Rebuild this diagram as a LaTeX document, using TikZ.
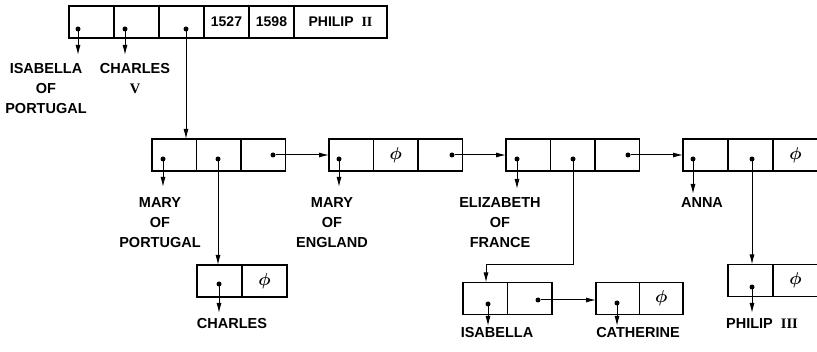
\documentclass[tikz,border=0pt]{standalone}
\usepackage{fontspec}
\usepackage{amsmath}
\setmainfont{Liberation Sans}
\newfontfamily\romfont{Liberation Serif}
\usetikzlibrary{arrows.meta}
\begin{document}
\begin{tikzpicture}[x=1pt,y=-1pt,
 cell/.style={draw,line width=1.4pt,minimum height=32pt,minimum width=44.5pt,inner sep=0pt,outer sep=0pt,font=\fontsize{14}{14}\bfseries\selectfont},
 dot/.style={circle,fill,inner sep=0pt,outer sep=0pt,minimum size=5pt},
 lab/.style={anchor=north,align=center,inner sep=0pt,font=\fontsize{14.5}{20}\bfseries\selectfont},
 ptr/.style={line width=1pt,-{Latex[length=10pt,width=5pt]}}]
\useasboundingbox (0,0) rectangle (817,352);
\clip (0,0) rectangle (817,352);
\newcommand{\phisym}{\fontsize{16}{16}\selectfont$\boldsymbol{\phi}$}
% top record
\node[cell,minimum width=45pt] (t1) at (91.5,22) {};
\node[cell,minimum width=45pt] (t2) at (136.5,22) {};
\node[cell,minimum width=45pt] (t3) at (181.5,22) {};
\node[cell,minimum width=45pt] (t4) at (226.5,22) {1527};
\node[cell,minimum width=45pt] (t5) at (271.5,22) {1598};
\node[cell,minimum width=93pt] (t6) at (340.5,22) {PHILIP\ \ {\romfont II}};
\node[dot] (td1) at (78,29) {};
\node[dot] (td2) at (125,29) {};
\node[dot] (td3) at (186,29) {};
% middle records
\node[cell] (m1a) at (174.2,155) {};
\node[cell] (m1b) at (218.8,155) {};
\node[cell] (m1c) at (263.3,155) {};
\node[cell] (m2a) at (351.3,155) {};
\node[cell] (m2b) at (395.8,155) {\phisym};
\node[cell] (m2c) at (440.3,155) {};
\node[cell] (m3a) at (528.3,155) {};
\node[cell] (m3b) at (572.8,155) {};
\node[cell] (m3c) at (617.3,155) {};
\node[cell,minimum width=45pt] (m4a) at (705.5,155) {};
\node[cell,minimum width=45pt] (m4b) at (750.5,155) {};
\node[cell,minimum width=45pt] (m4c) at (795.5,155) {\phisym};
\node[dot] (m1d1) at (163,159) {};
\node[dot] (m1d2) at (218,159) {};
\node[dot] (m1d3) at (273,155) {};
\node[dot] (m2d1) at (339,159) {};
\node[dot] (m2d3) at (452,155) {};
\node[dot] (m3d1) at (517,159) {};
\node[dot] (m3d2) at (573,159) {};
\node[dot] (m3d3) at (628,155) {};
\node[dot] (m4d1) at (693,159) {};
\node[dot] (m4d2) at (752,159) {};
% bottom records
\node[cell,minimum width=45pt] (b1a) at (219.5,281) {};
\node[cell,minimum width=45pt] (b1b) at (264.5,281) {\phisym};
\node[cell] (b2a) at (485.2,298.5) {};
\node[cell] (b2b) at (529.8,298.5) {};
\node[cell,minimum width=43.5pt] (b3a) at (617.8,298.5) {};
\node[cell,minimum width=43.5pt] (b3b) at (661.3,298.5) {\phisym};
\node[cell,minimum width=45pt] (b4a) at (750.5,280.5) {};
\node[cell,minimum width=45pt] (b4b) at (795.5,280.5) {\phisym};
\node[dot] (b1d) at (219,284) {};
\node[dot] (b2d1) at (488,304) {};
\node[dot] (b2d2) at (538,300) {};
\node[dot] (b3d) at (617,303) {};
\node[dot] (b4d) at (752,287) {};
% labels
\node[lab] (l1) at (46,63) {ISABELLA\\OF\\PORTUGAL};
\node[lab] (l2) at (135,63) {CHARLES\\{\romfont V}};
\node[lab] (l3) at (160,197) {MARY\\OF\\PORTUGAL};
\node[lab] (l4) at (332,197) {MARY\\OF\\ENGLAND};
\node[lab] (l5) at (500,197) {ELIZABETH\\OF\\FRANCE};
\node[lab] (l6) at (702,197) {ANNA};
\node[lab] (l7) at (232,318) {CHARLES};
\node[lab] (l8) at (497,327) {ISABELLA};
\node[lab] (l9) at (638,327) {CATHERINE};
\node[lab] (l10) at (762,318) {PHILIP\ \ {\romfont III}};
\coordinate (k) at (486,265);
% connectors
\draw[ptr,shorten >=8pt] (td1) -- (td1 |- l1.north);
\draw[ptr,shorten >=8pt] (td2) -- (td2 |- l2.north);
\draw[ptr] (td3) -- (td3 |- m1a.north);
\draw[ptr,shorten >=10pt] (m1d1) -- (m1d1 |- l3.north);
\draw[ptr,shorten >=10pt] (m2d1) -- (m2d1 |- l4.north);
\draw[ptr,shorten >=8pt] (m3d1) -- (m3d1 |- l5.north);
\draw[ptr,shorten >=3pt] (m4d1) -- (m4d1 |- l6.north);
\draw[ptr] (m1d3) -- (m1d3 -| m2a.west);
\draw[ptr] (m2d3) -- (m2d3 -| m3a.west);
\draw[ptr] (m3d3) -- (m3d3 -| m4a.west);
\draw[ptr] (m1d2) -- (m1d2 |- b1a.north);
\draw[ptr] (m3d2) |- (k) -- (k |- b2a.north);
\draw[ptr] (m4d2) -- (m4d2 |- b4a.north);
\draw[ptr] (b2d2) -- (b2d2 -| b3a.west);
\draw[ptr,shorten >=5pt] (b1d) -- (b1d |- l7.north);
\draw[ptr,shorten >=1pt] (b2d1) -- (b2d1 |- l8.north);
\draw[ptr,shorten >=1pt] (b3d) -- (b3d |- l9.north);
\draw[ptr,shorten >=5pt] (b4d) -- (b4d |- l10.north);
\end{tikzpicture}
\end{document}
